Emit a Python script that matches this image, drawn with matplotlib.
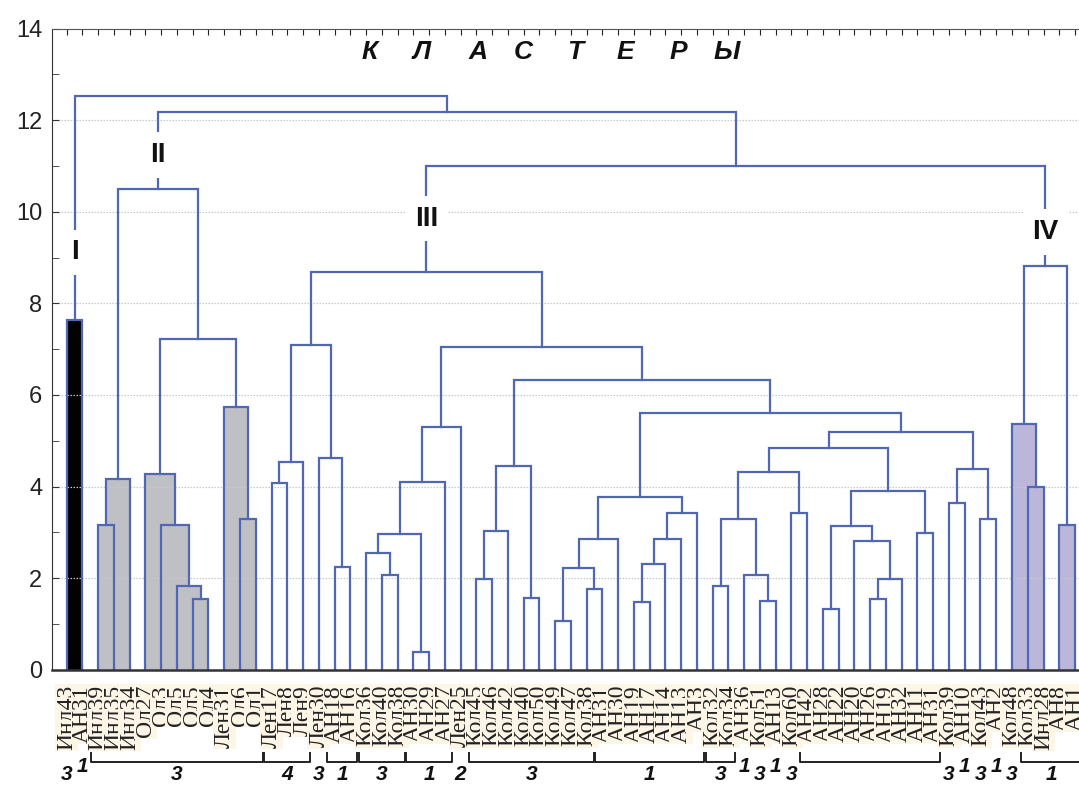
import matplotlib
matplotlib.use("Agg")
import matplotlib.pyplot as plt
from matplotlib.patches import Rectangle

# ---------------- data ----------------
leaf_labels = [
    "Инд43", "АН31", "Инд39", "Инд35", "Инд34", "Ол27", "Ол3", "Ол5", "Ол5", "Ол4",
    "Лен31", "Ол6", "Ол1", "Лен17", "Лен8", "Лен9", "Лен30", "АН18", "АН16", "Кол36",
    "Кол40", "Кол38", "АН30", "АН29", "АН27", "Лен25", "Кол45", "Кол46", "Кол42", "Кол40",
    "Кол50", "Кол49", "Кол47", "Кол38", "АН31", "АН30", "АН19", "АН17", "АН14", "АН13",
    "АН3", "Кол32", "Кол34", "АН36", "Кол51", "АН13", "Кол60", "АН42", "АН28", "АН22",
    "АН20", "АН26", "АН19", "АН32", "АН11", "АН31", "Кол39", "АН10", "Кол43", "АН2",
    "Кол48", "Кол33", "Инд28", "АН8", "АН1",
]

# merges: (left id, right id, linkage distance); ids >= len(leaf_labels) refer to earlier merges
merges = [
    (0, 1, 7.64),                                    # 65  I
    (2, 3, 3.16), (66, 4, 4.16),                     # 66, 67
    (8, 9, 1.54), (7, 68, 1.83), (6, 69, 3.15), (5, 70, 4.28),   # 68-71
    (11, 12, 3.30), (10, 72, 5.73),                  # 72, 73
    (71, 73, 7.23), (67, 74, 10.49),                 # 74, 75  II
    (13, 14, 4.07), (76, 15, 4.54),                  # 76, 77
    (17, 18, 2.24), (16, 78, 4.62), (77, 79, 7.09),  # 78-80
    (20, 21, 2.07), (19, 81, 2.55), (22, 23, 0.38),  # 81-83
    (82, 83, 2.96), (84, 24, 4.10), (85, 25, 5.29),  # 84-86
    (26, 27, 1.97), (87, 28, 3.02), (29, 30, 1.57), (88, 89, 4.45),  # 87-90
    (31, 32, 1.06), (33, 34, 1.77), (91, 92, 2.21), (93, 35, 2.85),  # 91-94
    (36, 37, 1.47), (95, 38, 2.31), (96, 39, 2.85), (97, 40, 3.43),  # 95-98
    (94, 98, 3.77),                                  # 99
    (41, 42, 1.83), (44, 45, 1.50), (43, 101, 2.07), (100, 102, 3.30),  # 100-103
    (46, 47, 3.43), (103, 104, 4.32),                # 104, 105
    (48, 49, 1.33), (51, 52, 1.54), (107, 53, 1.97), (50, 108, 2.82),  # 106-109
    (106, 109, 3.13), (54, 55, 2.98), (110, 111, 3.91), (105, 112, 4.85),  # 110-113
    (56, 57, 3.63), (58, 59, 3.30), (114, 115, 4.38), (113, 116, 5.19),  # 114-117
    (99, 117, 5.60), (90, 118, 6.32), (86, 119, 7.04), (80, 120, 8.68),  # 118-121 III
    (61, 62, 4.00), (60, 122, 5.36), (63, 64, 3.16), (123, 124, 8.82),   # 122-125 IV
    (121, 125, 11.00), (75, 126, 12.17), (65, 127, 12.53),               # 126-128
]

cluster_names = ["I", "II", "III", "IV"]
cluster_nodes = [65, 75, 121, 125]
cluster_label_heights = [9.11, 11.24, 9.85, 9.56]

black_nodes = [65]
gray_nodes = [66, 67, 68, 69, 70, 71, 72, 73]
purple_nodes = [122, 123, 124]

# group codes under the labels: (first leaf, last leaf, code)
group_codes = [
    (0, 0, "3"), (1, 1, "1"), (2, 12, "3"), (13, 15, "4"), (16, 16, "3"),
    (17, 18, "1"), (19, 21, "3"), (22, 24, "1"), (25, 25, "2"), (26, 33, "3"),
    (34, 40, "1"), (41, 42, "3"), (43, 43, "1"), (44, 44, "3"), (45, 45, "1"),
    (46, 46, "3"), (47, 55, ""), (56, 56, "3"), (57, 57, "1"), (58, 58, "3"),
    (59, 59, "1"), (60, 60, "3"), (61, 64, "1"),
]

title_letters = ["К", "Л", "А", "С", "Т", "Е", "Р", "Ы"]
y_ticks = [0, 2, 4, 6, 8, 10, 12, 14]

# ---------------- layout ----------------
W, H = 1079, 785
fig = plt.figure(figsize=(W / 100, H / 100), dpi=100)
ax_l, ax_r, ax_t, ax_b = 52, 1079, 28.5, 669.7
ax = fig.add_axes([ax_l / W, 1 - ax_b / H, (ax_r - ax_l) / W, (ax_b - ax_t) / H])

leaf_px0, leaf_step = 66.7, 15.755
xmin = (ax_l - leaf_px0) / leaf_step
xmax = (ax_r - leaf_px0) / leaf_step
ax.set_xlim(xmin, xmax)
ax.set_ylim(0, 14)

LINE = "#5068b4"
n = len(leaf_labels)
pos = {i: float(i) for i in range(n)}
hgt = {i: 0.0 for i in range(n)}
kids = {}
for k, (a, b, h) in enumerate(merges):
    nid = n + k
    pos[nid] = (pos[a] + pos[b]) / 2
    hgt[nid] = h
    kids[nid] = (a, b)

# fills
for nodes, col in ((black_nodes, "#000000"), (gray_nodes, "#bfc0c5"), (purple_nodes, "#bcb7da")):
    for nid in nodes:
        a, b = kids[nid]
        ax.add_patch(Rectangle((pos[a], 0), pos[b] - pos[a], hgt[nid],
                               facecolor=col, edgecolor="none", zorder=1))

# grid
for yv in y_ticks[1:-1]:
    ax.axhline(yv, color="#c8c8c8", lw=0.9, ls=(0, (1.2, 1.2)), zorder=1.5)

# dendrogram lines
for k, (a, b, h) in enumerate(merges):
    ax.plot([pos[a], pos[a], pos[b], pos[b]], [hgt[a], h, h, hgt[b]],
            color=LINE, lw=1.6, zorder=2, solid_joinstyle="miter")

# cluster names
for name, nid, yh in zip(cluster_names, cluster_nodes, cluster_label_heights):
    ax.text(pos[nid], yh, name, ha="center", va="center", fontsize=20,
            fontweight="bold", family="Liberation Sans", color="#111111", zorder=4,
            bbox=dict(boxstyle="square,pad=0.35", facecolor="white", edgecolor="none"))

# axes styling
ax.spines["right"].set_visible(False)
ax.spines["bottom"].set_linewidth(1.8)
ax.spines["bottom"].set_color("#333333")
ax.spines["left"].set_color("#333333")
ax.spines["top"].set_color("#555555")
ax.set_yticks(y_ticks)
ax.set_yticks(range(1, 14, 2), minor=True)
ax.tick_params(axis="y", which="both", direction="in", length=5, color="#333333",
               labelsize=17, labelcolor="#222222", pad=7)
for t in ax.get_yticklabels():
    t.set_family("Liberation Sans")
ax.set_xticks(range(n))
ax.set_xticklabels(leaf_labels, rotation=90, family="Liberation Serif", fontsize=17,
                   color="#222222")
ax.tick_params(axis="x", which="both", direction="in", length=4, color="#222222",
               top=True, pad=11)
for t in ax.get_xticklabels():
    t.set_bbox(dict(boxstyle="square,pad=0.05", facecolor="#fdf5e6", edgecolor="none"))

# title letters
title_x = [370, 422, 478, 523, 575, 625, 678, 727]
for ch, xp in zip(title_letters, title_x):
    fig.text(xp / W, 1 - 52 / H, ch, ha="center", va="center", fontsize=19,
             fontweight="bold", style="italic", family="Liberation Sans", color="#111111")

# group codes and brackets
for first, last, code in group_codes:
    if last > first:
        x0, x1 = first - 0.45, last + 0.45
        yb = 1 - 762 / H
        fig.lines.append(plt.Line2D([(leaf_px0 + x0 * leaf_step) / W] * 2 + [(leaf_px0 + x1 * leaf_step) / W] * 2,
                                    [yb + 9 / H, yb, yb, yb + 9 / H], color="#222222", lw=1.4,
                                    transform=fig.transFigure))
        xc = (first + last) / 2
        yt = 774
    else:
        xc = first
        yt = 767 if code == "1" else 775
    if code:
        fig.text((leaf_px0 + xc * leaf_step) / W, 1 - yt / H, code, ha="center", va="center",
                 fontsize=15, fontweight="bold", style="italic", family="Liberation Sans",
                 color="#111111")

fig.savefig("out.png", dpi=100)
